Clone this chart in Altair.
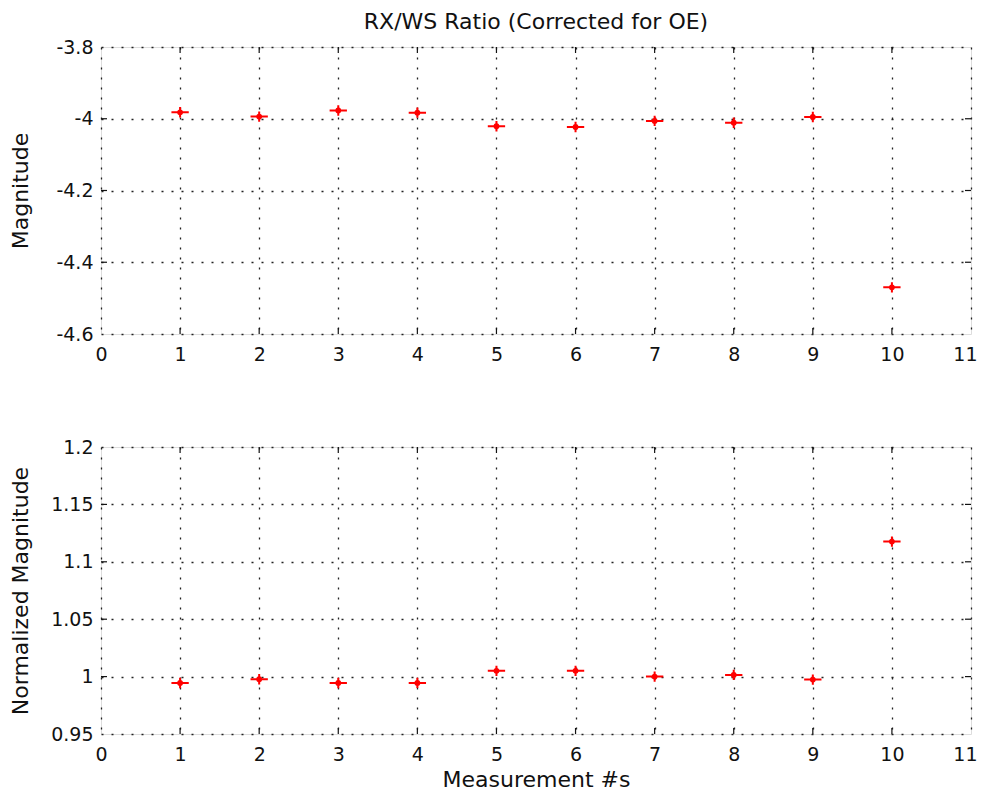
import altair as alt
import pandas as pd

meas = [1, 2, 3, 4, 5, 6, 7, 8, 9, 10]
magnitude = [-3.982, -3.994, -3.977, -3.983, -4.021, -4.023, -4.006, -4.011, -3.995, -4.470]
normalized = [0.9944, 0.9977, 0.9944, 0.9945, 1.0050, 1.0050, 1.0000, 1.0015, 0.9974, 1.1176]

x_ticks = list(range(0, 12))
top_y_ticks = [-4.6, -4.4, -4.2, -4.0, -3.8]
bot_y_ticks = [0.95, 1.0, 1.05, 1.1, 1.15, 1.2]

W, H = 870, 287
FONT = "DejaVu Sans"
TICK = 6
LBL = 19
TTL = 22

df_top = pd.DataFrame({"m": meas, "v": magnitude})
df_bot = pd.DataFrame({"m": meas, "v": normalized})
df_xt = pd.DataFrame({"t": x_ticks[1:-1]})

PLUS = "M-1,0L1,0M0,-0.6L0,0.6"
LABEL_EXPR = "replace(format(datum.value, '~g'), '\u2212', '-')"


def panel(df, yt, ydomain, ytitle, xtitle):
    xs = alt.Scale(domain=[0, 11], nice=False, zero=False)
    ys = alt.Scale(domain=ydomain, nice=False, zero=False)
    xkw = dict(values=x_ticks, grid=True, gridDash=[2, 8], gridColor="#222",
               gridWidth=1.3, ticks=False, labelPadding=11, labelFontSize=LBL,
               labelFont=FONT, labelColor="#111", domain=False, format="d",
               labelFlush=True, labelFlushOffset=6)
    if xtitle:
        xkw.update(title=xtitle, titleFontSize=TTL, titleFont=FONT,
                   titleFontWeight="normal", titleColor="#111", titlePadding=5)
    else:
        xkw.update(title=None)
    xaxis = alt.Axis(**xkw)
    yaxis = alt.Axis(values=yt, grid=True, gridDash=[2, 8], gridColor="#222",
                     gridWidth=1.3, ticks=False, labelPadding=8, labelFontSize=LBL,
                     labelFont=FONT, labelColor="#111", domain=False,
                     labelExpr=LABEL_EXPR,
                     title=ytitle, titleFontSize=TTL, titleFont=FONT,
                     titleFontWeight="normal", titleColor="#111", titlePadding=9,
                     minExtent=60, maxExtent=60, labelFlush=False)
    base = alt.Chart(df)
    plus = base.mark_point(shape=PLUS, filled=False, stroke="#ff0000", strokeWidth=2,
                           size=300, opacity=1).encode(
        x=alt.X("m:Q", scale=xs, axis=xaxis),
        y=alt.Y("v:Q", scale=ys, axis=yaxis))
    dot = base.mark_point(shape="circle", filled=True, color="#ff0000", size=34,
                          opacity=1).encode(
        x=alt.X("m:Q", scale=xs), y=alt.Y("v:Q", scale=ys))
    dyt = pd.DataFrame({"t": yt[1:-1]})
    xt_bot = alt.Chart(df_xt).mark_rule(color="#111", strokeWidth=1.2).encode(
        x=alt.X("t:Q", scale=xs), y=alt.value(H), y2=alt.value(H - TICK))
    xt_top = alt.Chart(df_xt).mark_rule(color="#111", strokeWidth=1.2).encode(
        x=alt.X("t:Q", scale=xs), y=alt.value(0), y2=alt.value(TICK))
    yt_l = alt.Chart(dyt).mark_rule(color="#111", strokeWidth=1.2).encode(
        y=alt.Y("t:Q", scale=ys), x=alt.value(0), x2=alt.value(TICK))
    yt_r = alt.Chart(dyt).mark_rule(color="#111", strokeWidth=1.2).encode(
        y=alt.Y("t:Q", scale=ys), x=alt.value(W), x2=alt.value(W - TICK))
    return alt.layer(xt_bot, xt_top, yt_l, yt_r, plus, dot).properties(width=W, height=H)


top = panel(df_top, top_y_ticks, [-4.6, -3.8], "Magnitude", None).properties(
    title=alt.TitleParams("RX/WS Ratio (Corrected for OE)", fontSize=TTL, font=FONT,
                          fontWeight="normal", color="#111", offset=4))
bot = panel(df_bot, bot_y_ticks, [0.95, 1.2], "Normalized Magnitude", "Measurement #s")

chart = alt.vconcat(top, bot, spacing=72).properties(
    padding={"left": 0, "top": 2, "right": 0, "bottom": 0}
).configure_view(stroke="#222", strokeWidth=1.3).configure(background="white")

chart.save("out.html", embed_options={"renderer": "svg", "actions": False})
